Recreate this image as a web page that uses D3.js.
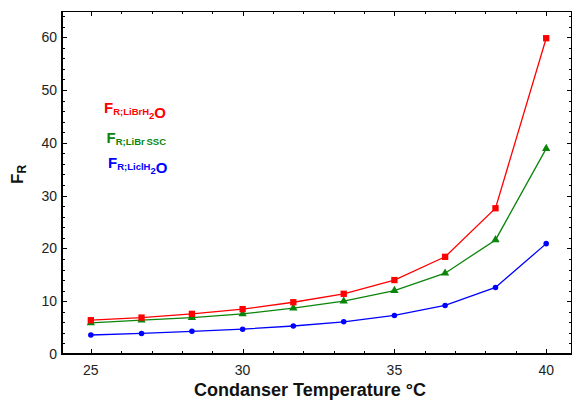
<!DOCTYPE html>
<html>
<head>
<meta charset="utf-8">
<script src="https://cdn.jsdelivr.net/npm/d3@7"></script>
<style>
  body { margin: 0; background: #fff; }
  text { font-family: "Liberation Sans", Arial, sans-serif; }
</style>
</head>
<body>
<script>
// condenser temperatures (°C)
var temps = [25, 26.67, 28.33, 30, 31.67, 33.33, 35, 36.67, 38.33, 40];

// F_R values
var frLiBrH2O = [6.4, 6.9, 7.6, 8.5, 9.8, 11.4, 14.0, 18.4, 27.6, 59.8];
var frLiBrSSC = [5.9, 6.4, 6.9, 7.6, 8.7, 10.0, 12.0, 15.3, 21.6, 38.9];
var frLiClH2O = [3.6, 3.9, 4.3, 4.7, 5.3, 6.1, 7.3, 9.2, 12.6, 20.9];

var xTickLabels = [25, 30, 35, 40];
var yTickLabels = [0, 10, 20, 30, 40, 50, 60];

var width = 574, height = 403;
var margin = {top: 11, right: 2, bottom: 49, left: 62};

var xScale = d3.scaleLinear().domain([24.05, 40.85]).range([margin.left, width - margin.right]);
var yScale = d3.scaleLinear().domain([0, 64.95]).range([height - margin.bottom, margin.top]);

var svg = d3.select("body").append("svg")
    .attr("width", width)
    .attr("height", height);

var x0 = margin.left, x1 = width - margin.right;
var y0 = height - margin.bottom, y1 = margin.top;

// ticks: inward on all four sides
function drawTicks() {
    var xMinor = d3.range(25, 41, 1);
    var yMinor = d3.range(0, 65, 2);

    // bottom + top
    var xg = svg.append("g").attr("stroke", "#000").attr("stroke-width", 1);
    xMinor.forEach(function (v) {
        var big = xTickLabels.indexOf(v) >= 0;
        var len = big ? 5 : 3;
        var px = Math.round(xScale(v)) + 0.5;
        xg.append("line").attr("x1", px).attr("x2", px).attr("y1", y0).attr("y2", y0 - len);
        xg.append("line").attr("x1", px).attr("x2", px).attr("y1", y1).attr("y2", y1 + len);
    });

    // left + right
    var yg = svg.append("g").attr("stroke", "#000").attr("stroke-width", 1);
    yMinor.forEach(function (v) {
        var big = v % 10 === 0;
        var len = big ? 5 : 3;
        var py = Math.round(yScale(v)) + 0.5;
        yg.append("line").attr("x1", x0).attr("x2", x0 + len).attr("y1", py).attr("y2", py);
        yg.append("line").attr("x1", x1).attr("x2", x1 - len).attr("y1", py).attr("y2", py);
    });

    // tick labels
    svg.append("g").selectAll("text").data(xTickLabels).enter().append("text")
        .attr("x", function (d) { return xScale(d); })
        .attr("y", 375)
        .attr("text-anchor", "middle")
        .attr("font-size", 14)
        .attr("fill", "#222")
        .text(function (d) { return d; });

    svg.append("g").selectAll("text").data(yTickLabels).enter().append("text")
        .attr("x", 57)
        .attr("y", function (d) { return yScale(d) + 5; })
        .attr("text-anchor", "end")
        .attr("font-size", 14)
        .attr("fill", "#222")
        .text(function (d) { return d; });
}

// frame, thick on left and bottom
function drawFrame() {
    svg.append("line").attr("x1", x0).attr("x2", x1).attr("y1", y1 + 0.5).attr("y2", y1 + 0.5)
        .attr("stroke", "#000").attr("stroke-width", 1);
    svg.append("line").attr("x1", x1 - 0.5).attr("x2", x1 - 0.5).attr("y1", y1).attr("y2", y0)
        .attr("stroke", "#000").attr("stroke-width", 1);
    svg.append("line").attr("x1", x0).attr("x2", x0).attr("y1", y1).attr("y2", y0 + 1)
        .attr("stroke", "#000").attr("stroke-width", 2);
    svg.append("line").attr("x1", x0 - 1).attr("x2", x1).attr("y1", y0).attr("y2", y0)
        .attr("stroke", "#000").attr("stroke-width", 2);
}

var line = d3.line()
    .x(function (d, i) { return xScale(temps[i]); })
    .y(function (d) { return yScale(d); });

// one series: line + markers
function drawSeries(values, color, shape, size) {
    var g = svg.append("g");
    g.append("path")
        .attr("d", line(values))
        .attr("fill", "none")
        .attr("stroke", color)
        .attr("stroke-width", 1.3);
    g.selectAll("path.mark").data(values).enter().append("path")
        .attr("class", "mark")
        .attr("d", d3.symbol().type(shape).size(size))
        .attr("transform", function (d, i) { return "translate(" + xScale(temps[i]) + "," + yScale(d) + ")"; })
        .attr("fill", color);
}

// F with a subscript, H2O style where needed
function drawLegendLabel(x, y, color, sub, tail) {
    var t = svg.append("text")
        .attr("x", x).attr("y", y)
        .attr("fill", color)
        .attr("font-weight", "bold")
        .attr("font-size", 15);
    t.append("tspan").text("F");
    t.append("tspan").attr("font-size", 9.5).attr("dy", 2).attr("word-spacing", -0.8).text(sub);
    if (tail) {
        t.append("tspan").attr("font-size", 9.5).attr("dy", 4).text("2");
        t.append("tspan").attr("font-size", 15).attr("dy", -1).text("O");
    }
}

drawTicks();
drawSeries(frLiClH2O, "#0000ff", d3.symbolCircle, 24);
drawSeries(frLiBrSSC, "#0a850a", d3.symbolTriangle, 30);
drawSeries(frLiBrH2O, "#ff0000", d3.symbolSquare, 40);
drawFrame();

drawLegendLabel(104, 113, "#ff0000", "R;LiBrH", true);
drawLegendLabel(106.5, 143, "#0a850a", "R;LiBr SSC", false);
drawLegendLabel(108, 168, "#0000ff", "R;LiclH", true);

// axis titles
svg.append("text")
    .attr("x", 310).attr("y", 396)
    .attr("text-anchor", "middle")
    .attr("font-weight", "bold")
    .attr("font-size", 18)
    .attr("fill", "#111")
    .text("Condanser Temperature °C");

var yl = svg.append("text")
    .attr("transform", "translate(23,184) rotate(-90)")
    .attr("font-weight", "bold")
    .attr("font-size", 17)
    .attr("fill", "#111");
yl.append("tspan").text("F");
yl.append("tspan").attr("font-size", 12).attr("dy", 3).text("R");
</script>
</body>
</html>
